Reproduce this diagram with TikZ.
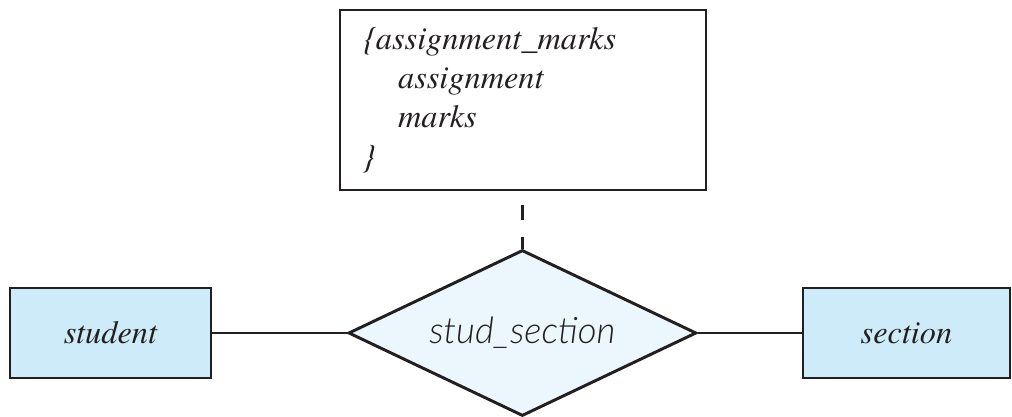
\documentclass[tikz,border=0pt]{standalone}
\usepackage{fontspec}
\newfontfamily\entfont{texgyretermes}[Extension=.otf,
  UprightFont=*-regular, ItalicFont=*-italic]
\newfontfamily\relfont{Lato Light}
\usepackage{xcolor}
\usetikzlibrary{shapes.geometric}
\definecolor{inkline}{HTML}{231F20}
\definecolor{entityfill}{HTML}{CDEBF8}
\definecolor{relfill}{HTML}{EBF7FC}
\tikzset{
  entitybox/.style={draw=inkline, fill=entityfill, minimum height=2.25cm,
    inner sep=0pt, font=\entfont\fontsize{23}{28}\selectfont\itshape},
  relbox/.style={diamond, aspect=2.1, draw=inkline, fill=relfill, inner sep=0pt,
    minimum width=8.7cm, minimum height=4.15cm,
    font=\relfont\fontsize{26}{30}\selectfont\itshape},
  notebox/.style={draw=inkline, minimum width=9.15cm, minimum height=4.5cm,
    inner xsep=0.575cm, text width=8cm, align=left,
    font=\entfont\fontsize{23}{28}\selectfont\itshape}
}

\begin{document}
\begin{tikzpicture}[line width=2.1pt, inkline]
  \useasboundingbox (0,0) rectangle (25.3,10.425);
  % ---------- relationship ----------
  \node[relbox] (studsec) at (13.06,2.1) {stud\_section};
  % ---------- entities ----------
  \node[entitybox, minimum width=5.025cm] (student) at (2.7625,2.1) {student};
  \node[entitybox, minimum width=5.175cm] (section) at (22.6625,2.1) {section};
  % ---------- attributes of the relationship ----------
  \node[notebox] (marks) at (13.075,7.925)
    {\{assignment\_marks\\
     \hspace*{25pt}assignment\\
     \hspace*{25pt}marks\\
     \}};
  % ---------- links ----------
  \draw (student) -- (studsec);
  \draw (studsec) -- (section);
  \draw[dash pattern=on 0.38cm off 0.42cm, dash phase=0.47cm]
    (marks.south -| studsec.north) -- (studsec.north);
\end{tikzpicture}
\end{document}
